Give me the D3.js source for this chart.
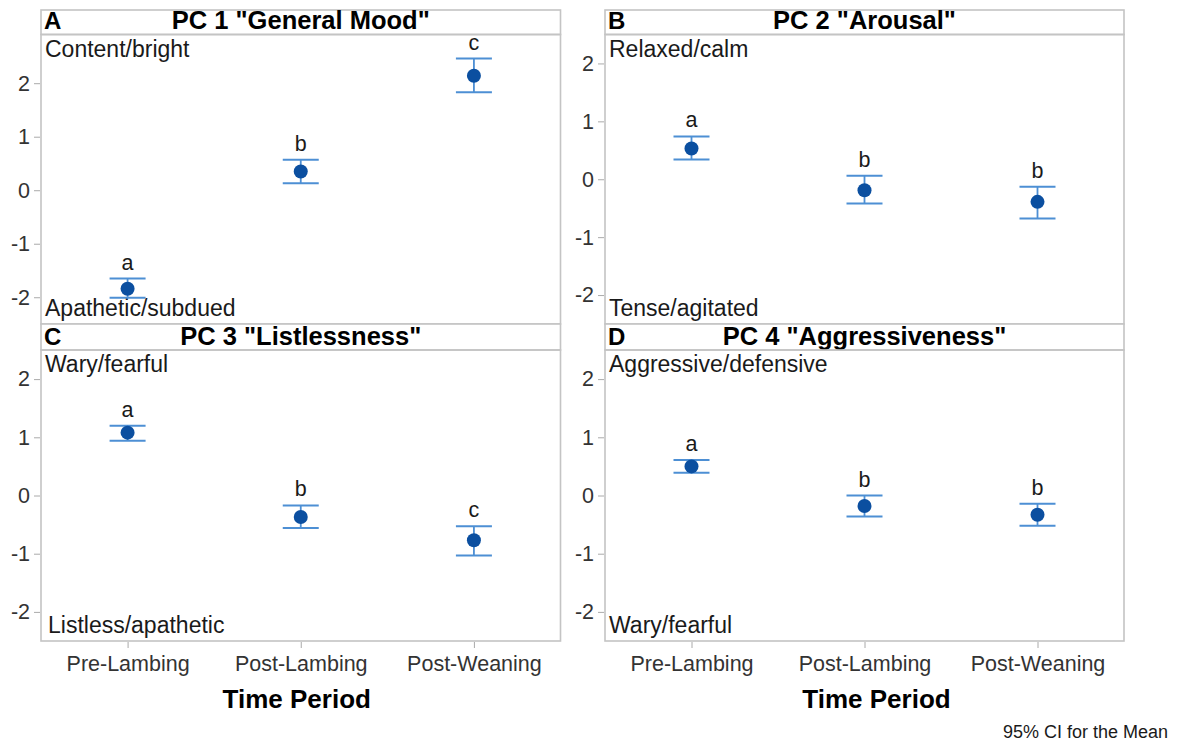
<!DOCTYPE html>
<html>
<head>
<meta charset="utf-8">
<script src="https://cdn.jsdelivr.net/npm/d3@7"></script>
<style>
  html, body { margin: 0; padding: 0; background: #fff; }
  svg { display: block; font-family: "Liberation Sans", Arial, sans-serif; }
</style>
</head>
<body>
<svg id="chart" width="1187" height="744"></svg>
<script>
// ---- data ----
const categories = ["Pre-Lambing", "Post-Lambing", "Post-Weaning"];
const panelLetters = ["A", "B", "C", "D"];
const panelTitles = ['PC 1 "General Mood"', 'PC 2 "Arousal"', 'PC 3 "Listlessness"', 'PC 4 "Aggressiveness"'];
const topLabels = ["Content/bright", "Relaxed/calm", "Wary/fearful", "Aggressive/defensive"];
const bottomLabels = ["Apathetic/subdued", "Tense/agitated", "Listless/apathetic", "Wary/fearful"];
const meanValues = [
  [-1.84, 0.35, 2.14],
  [0.53, -0.19, -0.39],
  [1.08, -0.37, -0.77],
  [0.50, -0.18, -0.33]
];
const lowerCI = [
  [-2.01, 0.13, 1.83],
  [0.34, -0.42, -0.68],
  [0.94, -0.56, -1.03],
  [0.39, -0.36, -0.52]
];
const upperCI = [
  [-1.65, 0.57, 2.46],
  [0.74, 0.06, -0.13],
  [1.20, -0.17, -0.53],
  [0.61, 0.00, -0.14]
];
const groupLetters = [
  ["a", "b", "c"],
  ["a", "b", "b"],
  ["a", "b", "c"],
  ["a", "b", "b"]
];
const yTickValues = [-2, -1, 0, 1, 2];
const yDomains = [[-2.5, 2.91], [-2.5, 2.5], [-2.5, 2.5], [-2.5, 2.5]];
const xAxisTitle = "Time Period";
const footnote = "95% CI for the Mean";

// ---- layout ----
const svg = d3.select("#chart");
const cols = [[41, 560.5], [605, 1124]];
const rows = [{ head: 10, top: 34.5, bottom: 324 }, { head: 324, top: 350, bottom: 641 }];
const borderColor = "#c4c4c4";
const pointColor = "#0b4fa0";
const barColor = "#4d8fd4";
const textColor = "#1a1a1a";

panelTitles.forEach((title, i) => {
  const c = cols[i % 2], r = rows[Math.floor(i / 2)];
  const x = d3.scalePoint().domain(categories).range(c).padding(0.5);
  const y = d3.scaleLinear().domain(yDomains[i]).range([r.bottom, r.top]);
  const g = svg.append("g");

  // header box
  g.append("rect").attr("x", c[0]).attr("y", r.head).attr("width", c[1] - c[0]).attr("height", r.top - r.head)
    .attr("fill", "#fff").attr("stroke", borderColor).attr("stroke-width", 1.6);
  g.append("text").attr("x", c[0] + 3).attr("y", r.top - 5.5)
    .attr("font-size", 24).attr("font-weight", "bold").attr("fill", "#000").text(panelLetters[i]);
  g.append("text").attr("x", (c[0] + c[1]) / 2).attr("y", r.top - 5.5).attr("text-anchor", "middle")
    .attr("font-size", 25.5).attr("font-weight", "bold").attr("fill", "#000").text(title);

  // plot box
  g.append("rect").attr("x", c[0]).attr("y", r.top).attr("width", c[1] - c[0]).attr("height", r.bottom - r.top)
    .attr("fill", "none").attr("stroke", borderColor).attr("stroke-width", 1.6);

  // y axis
  const ya = g.append("g").attr("transform", `translate(${c[0] - 1},0)`)
    .call(d3.axisLeft(y).tickValues(yTickValues).tickSize(6).tickPadding(4).tickFormat(d => String(d)));
  ya.select(".domain").remove();
  ya.selectAll(".tick line").attr("stroke", "#aaa");
  ya.selectAll(".tick text").attr("font-size", 21.5).attr("fill", "#333")
    .attr("font-family", "'Liberation Sans', Arial, sans-serif");

  // x axis for bottom row
  if (Math.floor(i / 2) === 1) {
    const xa = g.append("g").attr("transform", `translate(0,${r.bottom + 1})`)
      .call(d3.axisBottom(x).tickSize(6).tickPadding(8));
    xa.select(".domain").remove();
    xa.selectAll(".tick line").attr("stroke", "#aaa");
    xa.selectAll(".tick text").attr("font-size", 21.5).attr("fill", "#333")
      .attr("font-family", "'Liberation Sans', Arial, sans-serif");
    g.append("text").attr("x", (c[0] + c[1]) / 2 + (i === 2 ? -4 : 12)).attr("y", 708)
      .attr("text-anchor", "middle").attr("font-size", 26).attr("font-weight", "bold").attr("fill", "#000")
      .text(xAxisTitle);
  }

  // annotations
  g.append("text").attr("x", c[0] + 4).attr("y", r.top + 22).attr("font-size", 23).attr("fill", textColor).text(topLabels[i]);
  g.append("text").attr("x", c[0] + 4 + (i === 2 ? 3 : 0)).attr("y", r.bottom - 8).attr("font-size", 23).attr("fill", textColor).text(bottomLabels[i]);

  // error bars
  const rowsData = categories.map((cat, k) => ({ cat, m: meanValues[i][k], lo: lowerCI[i][k], hi: upperCI[i][k], grp: groupLetters[i][k] }));
  const capHalf = 18;
  const eb = g.append("g");
  eb.selectAll("line.v").data(rowsData).join("line").attr("class", "v")
    .attr("x1", d => x(d.cat)).attr("x2", d => x(d.cat)).attr("y1", d => y(d.lo)).attr("y2", d => y(d.hi))
    .attr("stroke", barColor).attr("stroke-width", 1.8);
  eb.selectAll("line.hi").data(rowsData).join("line").attr("class", "hi")
    .attr("x1", d => x(d.cat) - capHalf).attr("x2", d => x(d.cat) + capHalf).attr("y1", d => y(d.hi)).attr("y2", d => y(d.hi))
    .attr("stroke", barColor).attr("stroke-width", 2);
  eb.selectAll("line.lo").data(rowsData).join("line").attr("class", "lo")
    .attr("x1", d => x(d.cat) - capHalf).attr("x2", d => x(d.cat) + capHalf).attr("y1", d => y(d.lo)).attr("y2", d => y(d.lo))
    .attr("stroke", barColor).attr("stroke-width", 2);
  eb.selectAll("circle").data(rowsData).join("circle")
    .attr("cx", d => x(d.cat)).attr("cy", d => y(d.m)).attr("r", 7).attr("fill", pointColor);
  eb.selectAll("text").data(rowsData).join("text")
    .attr("x", d => x(d.cat)).attr("y", d => y(d.hi) - 9).attr("text-anchor", "middle")
    .attr("font-size", 21.5).attr("fill", textColor).text(d => d.grp);
});

svg.append("text").attr("x", 1168).attr("y", 738).attr("text-anchor", "end")
  .attr("font-size", 18).attr("fill", textColor).text(footnote);
</script>
</body>
</html>
